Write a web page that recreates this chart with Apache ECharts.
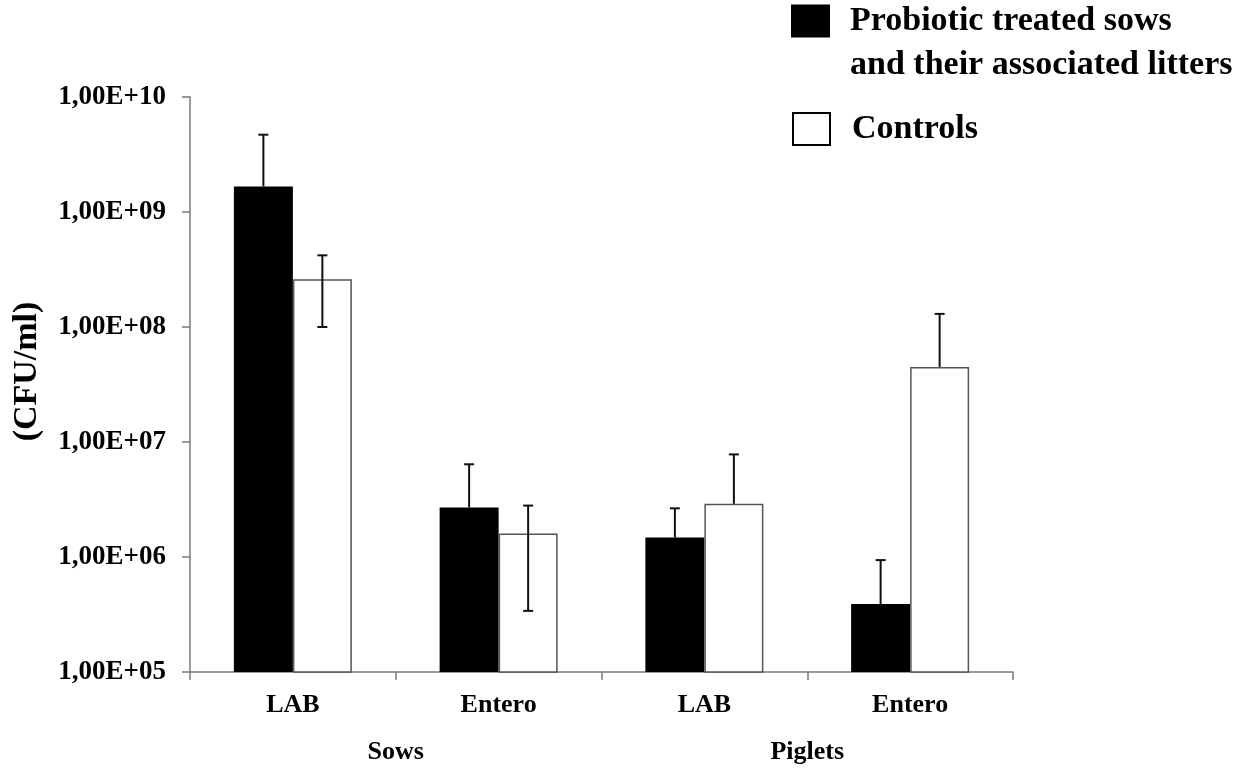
<!DOCTYPE html>
<html lang="en">
  <head>
    <meta charset="UTF-8" />
    <title>CFU/ml</title>
    <script src="https://cdn.jsdelivr.net/npm/echarts@6/dist/echarts.min.js"></script>
  </head>
  <body style="margin: 0">
    <div id="main" style="width: 1253px; height: 770px"></div>

    <script>
      const myEchart = echarts.init(document.getElementById("main"));

      // categories
      var categories = ["LAB", "Entero", "LAB", "Entero"];
      var groups = ["Sows", "Piglets"];
      var seriesNames = [
        "Probiotic treated sows and their associated litters",
        "Controls",
      ];

      // mean values (CFU/ml)
      var treated = [1.67e9, 2.7e6, 1.48e6, 3.9e5];
      var controls = [2.6e8, 1.6e6, 2.9e6, 4.5e7];

      // error bar ends (null = not drawn)
      var treatedHigh = [4.7e9, 6.4e6, 2.65e6, 9.4e5];
      var treatedLow = [null, null, null, null];
      var controlsHigh = [4.2e8, 2.8e6, 7.8e6, 1.3e8];
      var controlsLow = [1e8, 3.4e5, null, null];

      var FONT = "'Liberation Serif', 'Times New Roman', serif";
      var BAR_W = 59;

      function errData(mean, high, low) {
        return mean.map(function (m, i) {
          return [i, m, high[i] == null ? "-" : high[i], low[i] == null ? "-" : low[i]];
        });
      }

      function errRender(offset) {
        return function (params, api) {
          var cat = api.value(0);
          var mean = api.value(1);
          var hi = api.value(2);
          var lo = api.value(3);
          var x = api.coord([cat, mean])[0] + offset;
          var yMean = api.coord([cat, mean])[1];
          var cap = 5;
          var children = [];
          var style = { stroke: "#111", lineWidth: 2 };
          var yTop = isNaN(hi) ? yMean : api.coord([cat, hi])[1];
          var yBot = isNaN(lo) ? yMean : api.coord([cat, lo])[1];
          children.push({ type: "line", shape: { x1: x, y1: yTop, x2: x, y2: yBot }, style: style });
          if (!isNaN(hi)) {
            children.push({ type: "line", shape: { x1: x - cap, y1: yTop, x2: x + cap, y2: yTop }, style: style });
          }
          if (!isNaN(lo)) {
            children.push({ type: "line", shape: { x1: x - cap, y1: yBot, x2: x + cap, y2: yBot }, style: style });
          }
          return { type: "group", children: children };
        };
      }

      let options = {
        animation: false,
        textStyle: { fontFamily: FONT },
        grid: { left: 190, right: 240, top: 97, bottom: 98 },
        legend: [
          {
            data: [{ name: seriesNames[0], icon: "rect", itemStyle: { color: "#000", borderWidth: 0 } }],
            left: 791,
            top: -45,
            padding: 0,
            itemWidth: 39,
            itemHeight: 33,
            selectedMode: false,
            formatter: function () {
              // leading empty line keeps the first line level with the icon
              return "\nProbiotic treated sows\nand their associated litters";
            },
            textStyle: {
              fontFamily: FONT,
              fontWeight: "bold",
              fontSize: 34,
              lineHeight: 44,
              color: "#000",
              padding: [0, 0, 0, 15],
            },
          },
          {
            data: [{ name: seriesNames[1], icon: "rect", itemStyle: { color: "#fff", borderColor: "#000", borderWidth: 2 } }],
            left: 792,
            top: 112,
            padding: 0,
            itemWidth: 37,
            itemHeight: 32,
            selectedMode: false,
            textStyle: {
              fontFamily: FONT,
              fontWeight: "bold",
              fontSize: 34,
              color: "#000",
              padding: [0, 0, 0, 17],
            },
          },
        ],
        xAxis: [
          {
            type: "category",
            data: categories,
            position: "bottom",
            axisLine: { lineStyle: { color: "#7a7a7a", width: 1.5 } },
            axisTick: { show: true, length: 8, lineStyle: { color: "#7a7a7a", width: 1.5 } },
            axisLabel: { fontSize: 26, fontWeight: "bold", color: "#000", margin: 20, fontFamily: FONT },
          },
          {
            type: "category",
            data: groups,
            position: "bottom",
            offset: 59,
            axisLine: { show: false },
            axisTick: { show: false },
            axisLabel: { fontSize: 26, fontWeight: "bold", color: "#000", margin: 8, fontFamily: FONT },
          },
        ],
        yAxis: {
          type: "log",
          logBase: 10,
          min: 1e5,
          max: 1e10,
          name: "(CFU/ml)",
          nameLocation: "middle",
          nameGap: 146,
          nameTextStyle: {
            fontSize: 34,
            fontWeight: "bold",
            color: "#000",
            fontFamily: FONT,
            padding: [0, 0, 0, 26],
          },
          axisLine: { show: true, lineStyle: { color: "#7a7a7a", width: 1.5 } },
          axisTick: { show: true, length: 8, lineStyle: { color: "#7a7a7a", width: 1.5 } },
          minorTick: { show: false },
          splitLine: { show: false },
          axisLabel: {
            fontSize: 27,
            fontWeight: "bold",
            color: "#000",
            margin: 24,
            fontFamily: FONT,
            formatter: function (v) {
              var e = Math.round(Math.log10(v));
              return "1,00E+" + (e < 10 ? "0" + e : e);
            },
          },
        },
        series: [
          {
            name: seriesNames[0],
            type: "bar",
            xAxisIndex: 0,
            data: treated,
            barWidth: BAR_W,
            barGap: "0%",
            clip: true,
            itemStyle: { color: "#000", borderColor: "#000", borderWidth: 0 },
          },
          {
            name: seriesNames[1],
            type: "bar",
            xAxisIndex: 0,
            data: controls,
            barWidth: BAR_W,
            barGap: "0%",
            clip: true,
            itemStyle: { color: "#fff", borderColor: "#555", borderWidth: 1.5 },
          },
          {
            type: "custom",
            xAxisIndex: 0,
            data: errData(treated, treatedHigh, treatedLow),
            renderItem: errRender(-BAR_W / 2),
            encode: { x: 0, y: 1 },
            z: 5,
            silent: true,
          },
          {
            type: "custom",
            xAxisIndex: 0,
            data: errData(controls, controlsHigh, controlsLow),
            renderItem: errRender(BAR_W / 2),
            encode: { x: 0, y: 1 },
            z: 5,
            silent: true,
          },
        ],
      };

      myEchart.setOption(options);
    </script>
  </body>
</html>
